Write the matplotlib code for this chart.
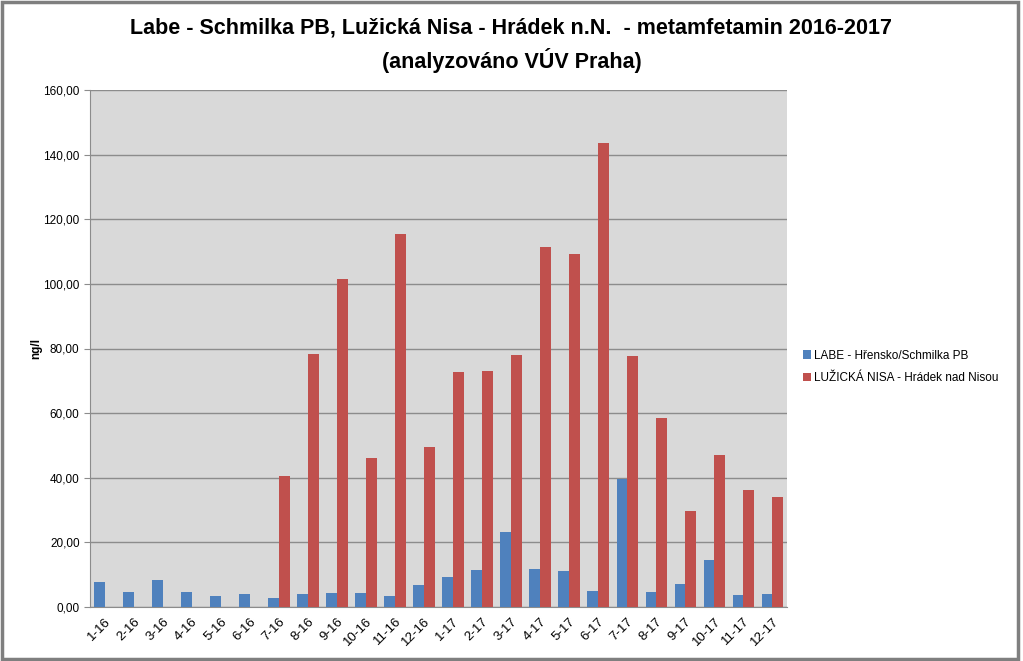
import matplotlib.pyplot as plt
import numpy as np
from matplotlib.patches import Rectangle
from matplotlib.ticker import FuncFormatter

months = ['1-16', '2-16', '3-16', '4-16', '5-16', '6-16', '7-16', '8-16', '9-16', '10-16', '11-16', '12-16',
          '1-17', '2-17', '3-17', '4-17', '5-17', '6-17', '7-17', '8-17', '9-17', '10-17', '11-17', '12-17']
labe = [7.8, 4.5, 8.4, 4.5, 3.5, 4.1, 2.8, 3.9, 4.3, 4.3, 3.3, 6.7,
        9.2, 11.6, 23.2, 11.9, 11.0, 4.9, 39.5, 4.5, 7.1, 14.7, 3.7, 4.1]
nisa = [0, 0, 0, 0, 0, 0, 40.6, 78.3, 101.5, 46.2, 115.5, 49.6,
        72.8, 73.0, 78.0, 111.5, 109.4, 143.6, 77.6, 58.4, 29.6, 47.1, 36.2, 33.9]
names = ['LABE - Hřensko/Schmilka PB', 'LUŽICKÁ NISA - Hrádek nad Nisou']

plt.rcParams['font.family'] = ['Liberation Sans', 'DejaVu Sans']

fig = plt.figure(figsize=(10.23, 6.61), dpi=100)
fig.patch.set_facecolor('white')
# outer chart frame
fig.add_artist(Rectangle((0.002, 0.003), 0.993, 0.994, transform=fig.transFigure,
                         fill=False, edgecolor='#7f7f7f', linewidth=2.5))

ax = fig.add_axes([90/1023, 1-607/661, 697/1023, 517/661])
ax.set_facecolor('#d9d9d9')
x = np.arange(len(months))
w = 0.37
ax.bar(x - w/2, labe, w, color='#4f81bd', label=names[0], zorder=3)
ax.bar(x + w/2, nisa, w, color='#c0504d', label=names[1], zorder=3)

ax.set_xlim(-0.5, len(months) - 0.5)
ax.set_ylim(0, 160)
ax.set_yticks(np.arange(0, 161, 20))
ax.yaxis.set_major_formatter(FuncFormatter(lambda v, p: f'{v:.2f}'.replace('.', ',')))
ax.grid(axis='y', color='#8c8c8c', linewidth=1, zorder=0)
ax.set_xticks(x)
ax.set_xticklabels(months, rotation=45, ha='right', rotation_mode='anchor', fontsize=9.5)
ax.tick_params(axis='y', labelsize=8.5, length=4, color='#8c8c8c')
ax.tick_params(axis='x', length=0, pad=6)
for s in ['top', 'right']:
    ax.spines[s].set_visible(False)
ax.spines['left'].set_color('#8c8c8c')
ax.spines['bottom'].set_color('#8c8c8c')
ax.set_ylabel('ng/l', fontsize=8.5, fontweight='bold')
ax.yaxis.set_label_coords(-48/697, 0.5)

fig.text(0.5, 0.957, 'Labe - Schmilka PB, Lužická Nisa - Hrádek n.N.  - metamfetamin 2016-2017',
         ha='center', va='center', fontsize=15.5, fontweight='bold')
fig.text(0.5, 0.908, '(analyzováno VÚV Praha)', ha='center', va='center', fontsize=15.5, fontweight='bold')

fig.legend(loc='center left', bbox_to_anchor=(803/1023, 1-367/661), frameon=False, fontsize=8.5,
           handlelength=0.7, handleheight=0.7, handletextpad=0.2, labelspacing=0.9,
           borderaxespad=0, borderpad=0)

fig.savefig('out.png', dpi=100)
